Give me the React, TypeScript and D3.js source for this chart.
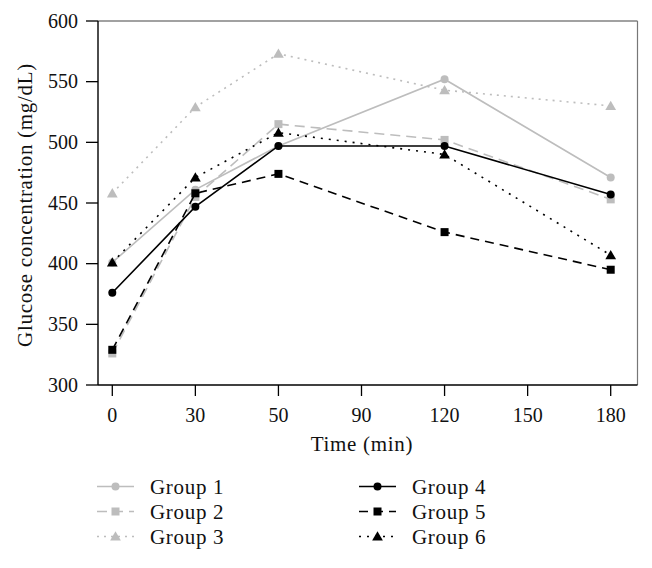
import { useRef, useEffect } from "react";
import * as d3 from "d3";

const TIME_TICKS = ["0", "30", "50", "90", "120", "150", "180"];
const TIMES = ["0", "30", "50", "120", "180"];
const Y_TICKS = [300, 350, 400, 450, 500, 550, 600];

const GROUP_NAMES = ["Group 1", "Group 2", "Group 3", "Group 4", "Group 5", "Group 6"];
const GROUP_1 = [401, 461, 497, 552, 471];
const GROUP_2 = [326, 455, 515, 502, 453];
const GROUP_3 = [458, 529, 573, 543, 530];
const GROUP_4 = [376, 447, 497, 497, 457];
const GROUP_5 = [329, 458, 474, 426, 395];
const GROUP_6 = [401, 471, 508, 490, 407];

const W = 652;
const H = 568;
const GRAY = "#bdbdbd";
const FONT = "'Liberation Serif', 'DejaVu Serif', serif";

type Style = { color: string; dash: string | null; marker: "circle" | "square" | "triangle" };

const STYLES: Style[] = [
  { color: GRAY, dash: null, marker: "circle" },
  { color: GRAY, dash: "10,6", marker: "square" },
  { color: GRAY, dash: "2,5", marker: "triangle" },
  { color: "#000", dash: null, marker: "circle" },
  { color: "#000", dash: "9,6", marker: "square" },
  { color: "#000", dash: "2,6", marker: "triangle" },
];

export default function App() {
  const svgRef = useRef<SVGSVGElement>(null);

  useEffect(() => {
    const svg = d3.select(svgRef.current);
    svg.selectAll("*").remove();

    const left = 98, right = 637.5, top = 21, bottom = 385;
    const x = d3.scalePoint<string>().domain(TIME_TICKS).range([112.3, 610.7]);
    const y = d3.scaleLinear().domain([300, 600]).range([bottom, top]);

    // frame: top/right lighter than the axes
    svg.append("line").attr("x1", left).attr("x2", right).attr("y1", top).attr("y2", top)
      .attr("stroke", "#444").attr("stroke-width", 1.2);
    svg.append("line").attr("x1", right).attr("x2", right).attr("y1", top).attr("y2", bottom)
      .attr("stroke", "#777").attr("stroke-width", 1.2);
    svg.append("line").attr("x1", left).attr("x2", right).attr("y1", bottom).attr("y2", bottom)
      .attr("stroke", "#000").attr("stroke-width", 1.4);
    svg.append("line").attr("x1", left).attr("x2", left).attr("y1", top).attr("y2", bottom)
      .attr("stroke", "#000").attr("stroke-width", 1.4);

    // y ticks
    Y_TICKS.forEach((v) => {
      svg.append("line").attr("x1", left - 12).attr("x2", left).attr("y1", y(v)).attr("y2", y(v))
        .attr("stroke", "#000").attr("stroke-width", 1.3);
      svg.append("text").attr("x", left - 20).attr("y", y(v)).attr("dy", "0.34em")
        .attr("text-anchor", "end").attr("font-family", FONT).attr("font-size", 20)
        .attr("fill", "#111").text(v);
    });

    // x ticks
    TIME_TICKS.forEach((t) => {
      svg.append("line").attr("x1", x(t)!).attr("x2", x(t)!).attr("y1", bottom).attr("y2", bottom + 11)
        .attr("stroke", "#000").attr("stroke-width", 1.3);
      svg.append("text").attr("x", x(t)!).attr("y", 421.5)
        .attr("text-anchor", "middle").attr("font-family", FONT).attr("font-size", 20)
        .attr("fill", "#111").text(t);
    });

    svg.append("text").attr("x", 362).attr("y", 451).attr("text-anchor", "middle")
      .attr("font-family", FONT).attr("font-size", 21).attr("letter-spacing", 0.7)
      .attr("fill", "#111").text("Time (min)");
    svg.append("text").attr("transform", "translate(32,205) rotate(-90)")
      .attr("text-anchor", "middle").attr("font-family", FONT).attr("font-size", 21)
      .attr("letter-spacing", 0.7).attr("fill", "#111").text("Glucose concentration (mg/dL)");

    const series = [GROUP_1, GROUP_2, GROUP_3, GROUP_4, GROUP_5, GROUP_6];

    function marker(g: any, kind: string, cx: number, cy: number, color: string) {
      if (kind === "circle") {
        g.append("circle").attr("cx", cx).attr("cy", cy).attr("r", 4).attr("fill", color);
      } else if (kind === "square") {
        g.append("rect").attr("x", cx - 4).attr("y", cy - 4).attr("width", 8).attr("height", 8).attr("fill", color);
      } else {
        g.append("path").attr("d", d3.symbol(d3.symbolTriangle, 50)()!)
          .attr("transform", `translate(${cx},${cy + 1})`).attr("fill", color);
      }
    }

    const line = d3.line<number>().x((_, i) => x(TIMES[i])!).y((d) => y(d));

    series.forEach((vals, si) => {
      const st = STYLES[si];
      const g = svg.append("g");
      g.append("path").attr("d", line(vals)!).attr("fill", "none").attr("stroke", st.color)
        .attr("stroke-width", 1.6).attr("stroke-dasharray", st.dash);
      vals.forEach((v, i) => marker(g, st.marker, x(TIMES[i])!, y(v), st.color));
    });

    // legend, two columns of three
    GROUP_NAMES.forEach((name, i) => {
      const st = STYLES[i];
      const lx = i < 3 ? 97 : 359;
      const ly = 486.5 + (i % 3) * 25;
      const g = svg.append("g");
      g.append("line").attr("x1", lx).attr("x2", lx + 37).attr("y1", ly).attr("y2", ly)
        .attr("stroke", st.color).attr("stroke-width", 1.6).attr("stroke-dasharray", st.dash);
      marker(g, st.marker, lx + 18.5, ly, st.color);
      g.append("text").attr("x", lx + 53).attr("y", ly).attr("dy", "0.34em")
        .attr("font-family", FONT).attr("font-size", 21).attr("letter-spacing", 0.7)
        .attr("fill", "#111").text(name);
    });
  }, []);

  return <svg ref={svgRef} width={W} height={H} style={{ display: "block", margin: -8, background: "#fff" }} />;
}
